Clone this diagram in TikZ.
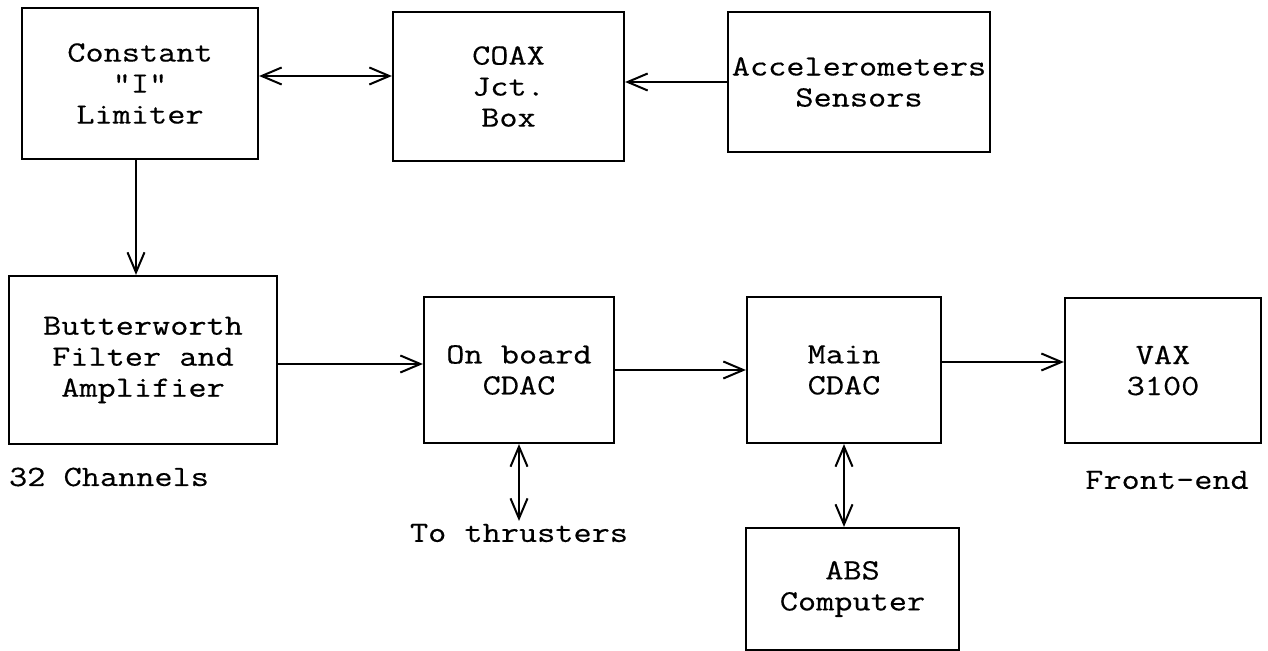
\documentclass[tikz,border=0pt]{standalone}
\usepackage{fontspec}
\setmonofont[FakeStretch=1.2,FakeBold=0.4]{Latin Modern Mono}
\usetikzlibrary{arrows.meta}

\begin{document}
\begin{tikzpicture}[x=0.5pt,y=-0.5pt,->,>={Straight Barb[length=10pt,width=8.5pt]},
  line width=1pt,font=\ttfamily\fontsize{14.7pt}{15.5pt}\selectfont,
  block/.style={rectangle,draw,line width=1.1pt,align=center,inner sep=0pt},
  label text/.style={inner sep=1pt}]

  \useasboundingbox (0,0) rectangle (1268,651);

  \node[block,minimum width=118pt,minimum height=75.5pt] (limiter) at (140,83.5) {Constant\\"I"\\Limiter};
  \node[block,minimum width=115.5pt,minimum height=74.5pt] (coax) at (508.5,86.5) {COAX\\Jct.\\Box};
  \node[block,minimum width=131pt,minimum height=70pt] (accel) at (859,82) {Accelerometers\\Sensors};
  \node[block,minimum width=134pt,minimum height=84pt] (filter) at (143,360) {Butterworth\\Filter and\\Amplifier};
  \node[block,minimum width=95pt,minimum height=73pt] (onboard) at (519,370) {On board\\CDAC};
  \node[block,minimum width=97pt,minimum height=73pt] (main) at (844,370) {Main\\CDAC};
  \node[block,minimum width=98pt,minimum height=72.5pt] (vax) at (1163,370.5) {VAX\\3100};
  \node[block,minimum width=106.5pt,minimum height=61pt] (abs) at (852.5,589) {ABS\\Computer};

  \node[label text] (chan) at (109,477) {32 Channels};
  \node[label text] (thrust) at (519,533) {To thrusters};
  \node[label text] (front) at (1167,480) {Front-end};

  \path
    ([yshift=3.75pt]limiter.east) edge[<->] ([yshift=5.25pt]coax.west)
    (accel.west) edge (accel.west -| coax.east)
    ([xshift=-2pt]limiter.south) edge ([xshift=-2pt]limiter.south |- filter.north)
    ([yshift=-2pt]filter.east) edge ([yshift=-2pt]filter.east -| onboard.west)
    (onboard) edge (main)
    ([yshift=4pt]main.east) edge ([yshift=4pt]main.east -| vax.west)
    (onboard.south) edge[<->] (thrust.north)
    (main.south) edge[<->] (main.south |- abs.north)
    ;
\end{tikzpicture}
\end{document}
